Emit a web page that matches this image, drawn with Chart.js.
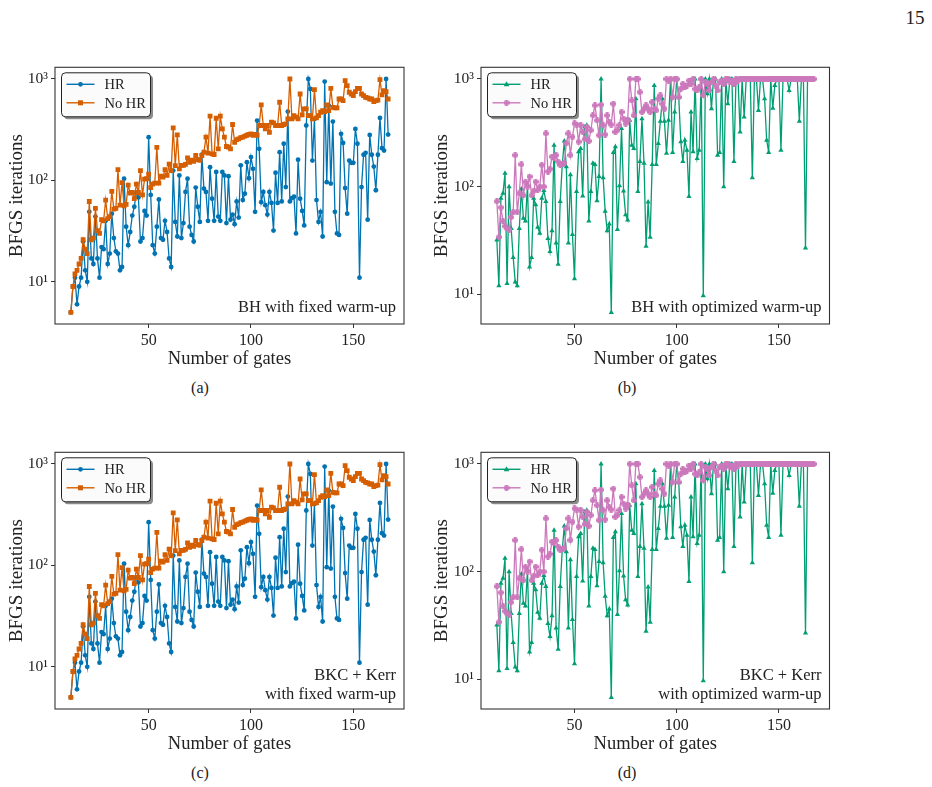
<!DOCTYPE html>
<html lang="en">
<head>
<meta charset="UTF-8">
<title>BFGS iterations vs number of gates</title>
<style>
  body { margin: 0; background: #fff; width: 932px; height: 787px; position: relative; overflow: hidden;
         font-family: 'Liberation Serif', serif; color: #222; }
  canvas { position: absolute; }
  .cap { position: absolute; font-size: 16px; transform: translate(-50%, -50%); white-space: nowrap; }
</style>
</head>
<body>
<div class="cap" style="left:915px;top:18px;font-size:19px">15</div>

<canvas id="pa" width="425" height="320" style="left:0;top:55px"></canvas>
<canvas id="pb" width="425" height="320" style="left:425px;top:55px"></canvas>
<canvas id="pc" width="425" height="320" style="left:0;top:440px"></canvas>
<canvas id="pd" width="425" height="320" style="left:425px;top:440px"></canvas>

<div class="cap" style="left:200px;top:388px">(a)</div>
<div class="cap" style="left:627px;top:388px">(b)</div>
<div class="cap" style="left:200px;top:773px">(c)</div>
<div class="cap" style="left:627px;top:773px">(d)</div>

<script src="https://cdn.jsdelivr.net/npm/chart.js@4.4.1/dist/chart.umd.min.js"></script>
<script>
// number of gates (x values)
const gates = [
  12,13,14,15,16,17,18,19,20,21,22,23,24,25,26,27,28,29,30,31,32,33,34,35,36,37,38,39,
  40,41,42,43,44,45,46,47,48,49,50,51,52,53,54,55,56,57,58,59,60,61,62,63,64,65,66,67,
  68,69,70,71,72,73,74,75,76,77,78,79,80,81,82,83,84,85,86,87,88,89,90,91,92,93,94,95,
  96,97,98,99,100,101,102,103,104,105,106,107,108,109,110,111,112,113,114,115,116,117,
  118,119,120,121,122,123,124,125,126,127,128,129,130,131,132,133,134,135,136,137,138,
  139,140,141,142,143,144,145,146,147,148,149,150,151,152,153,154,155,156,157,158,159,
  160,161,162,163,164,165,166,167
];

// fixed warm-up (panels a, c)
const hrFixed = [
  5, 9, 11, 6, 9, 11, 25, 13, 10, 49, 17, 15, 44, 17, 11, 22, 21, 40, 15, 19, 47, 27, 20, 19, 13, 14,
  104, 35, 23, 31, 45, 55, 76, 68, 25, 27, 50, 45,
  267, 72, 23, 19, 35, 65, 27, 26, 40, 31, 17, 14, 125,
  39, 28, 112, 27, 38, 77, 104, 35, 29, 25, 85, 55, 39, 179, 83, 77, 40, 135, 66, 40, 121, 44, 40,
  121, 112, 38, 110, 41, 46, 37, 62, 43, 141, 64, 74, 151, 105, 170, 130, 49, 389, 205, 61, 77, 57,
  46, 77, 60, 32, 119, 60, 190, 62, 230, 86, 477, 62,
  67, 69, 30, 160, 66, 50, 36, 348, 1000, 797, 157, 404, 64, 39, 49, 28, 942, 96, 547, 93, 380, 49,
  30, 29, 288, 234, 84, 47, 157, 149, 149, 322, 230, 11, 86, 179, 187, 41, 281, 179, 137, 80, 179,
  413, 208, 197, 1000, 283
];
const noHrFixed = [
  5, 9, 12, 13, 15, 17, 26, 21, 19, 62, 26, 27, 53, 32, 30, 41, 40, 64, 42, 44, 78, 52, 53, 128, 57,
  95, 56, 58, 90, 75, 76, 66, 92, 76, 125, 72, 103, 104, 115, 85, 92, 94, 212, 94, 110, 108, 128,
  112, 145, 125, 330,
  140, 281, 130, 141, 141, 144, 167, 151, 158, 154, 176, 160, 158, 176, 190, 267, 186, 430, 183, 180,
  410, 205, 430, 322, 267, 216, 213, 205, 356, 238, 253, 257, 264, 267, 273, 279, 285, 288, 279, 285,
  279, 348, 555, 348, 322, 348, 298, 375, 370, 348, 348, 590, 348, 356, 361, 404,
  1000,
  404, 436, 420, 404, 711, 442, 507, 507, 436, 436, 404, 785, 414, 436, 470, 488, 477, 555, 488, 809,
  526, 518, 518, 635, 635, 612, 963, 860, 740, 711, 685, 750, 809, 809, 711, 685, 660, 650, 635, 635,
  598, 612, 620, 985, 696, 768, 750, 635
];

// optimized warm-up (panels b, d)
const hrOpt = [
  32, 12, 78, 87, 133, 12.6, 100, 41, 22, 13, 12, 41, 95, 51, 48, 104, 18, 22, 78, 68, 42, 37, 78,
  92, 73, 33, 25, 39, 243, 30, 19, 73, 159, 265, 153, 30, 129, 36, 14, 90, 211, 226, 82, 359, 372,
  48, 90, 165, 161,
  74, 124, 1000, 121, 59, 39, 45, 6.8, 208, 235, 40, 102, 346, 91, 55, 49, 413, 243, 226, 655, 90,
  171, 428, 165, 28, 72, 34, 161, 868, 161, 251, 404, 655, 404, 204, 413, 1000, 208, 493, 1000, 678,
  261, 171, 270, 218, 81, 493, 211, 1000, 183, 218, 1000, 9.7, 1000, 728,
  1000, 528, 1000, 1000, 196, 208, 1000, 100, 1000, 589, 1000, 1000, 171, 1000, 1000, 322, 1000, 444,
  1000, 1000, 1000, 121, 1000, 1000, 510, 1000, 1000, 655, 270, 208, 1000, 535, 868, 1000, 1000, 218,
  1000, 1000, 1000, 782, 1000, 1000, 1000, 1000, 404, 1000, 1000, 27, 1000, 1000, 1000, 1000
];
const noHrOpt = [
  73, 34, 64, 48, 43, 41, 40, 52, 58, 196, 58, 87, 161, 83, 111, 100, 124, 83, 91, 111, 93, 100, 159,
  100, 312, 138, 146, 190, 186, 196, 171, 159, 161, 165, 252, 312, 196, 290, 386, 377, 261, 372, 322,
  276, 359, 265, 334, 459, 568, 413, 300,
  576, 372, 305, 459, 399, 377, 589, 322, 334, 372, 493, 428, 385, 413, 1000, 632, 459, 1000, 1000,
  754, 493, 529, 568, 529, 493, 610, 529, 511, 655, 703, 589, 529, 1000, 966, 1000, 678, 1000, 1000,
  678, 810, 900, 839, 869, 966, 900, 1000, 810, 782, 839, 1000, 703, 933, 900, 782, 933,
  1000, 869, 782, 933, 966, 900, 1000, 1000, 933, 966, 900, 1000, 966, 1000,
  1000, 1000, 1000, 1000, 1000, 1000, 1000, 1000, 1000, 1000, 1000, 1000, 1000, 1000, 1000, 1000,
  1000, 1000, 1000, 1000, 1000, 1000, 1000, 1000, 1000, 1000, 1000, 1000, 1000, 1000, 1000, 1000,
  1000, 1000, 1000, 1000
];

const xTicks = [50, 100, 150];
const yTicks = [10, 100, 1000];
const yTickLabels = ['10¹', '10²', '10³'];
const seriesLabels = ['HR', 'No HR'];

const BLUE = '#0173b2', ORANGE = '#d55e00', GREEN = '#029e73', PINK = '#cc78bc';
const INK = '#222';
const SERIF = '"Liberation Serif", serif';

// small filled plus marker ("P") for the pink series
function plusMarker(color) {
  const c = document.createElement('canvas');
  c.width = 6; c.height = 6;
  const g = c.getContext('2d');
  g.fillStyle = color;
  g.fillRect(1.5, 0, 3, 6);
  g.fillRect(0, 1.5, 6, 3);
  return c;
}
const pinkPlus = plusMarker(PINK);

function marker(ctx, style, color, x, y) {
  ctx.fillStyle = color;
  ctx.beginPath();
  if (style === 'circle') {
    ctx.arc(x, y, 2.4, 0, Math.PI * 2); ctx.fill();
  } else if (style === 'rect') {
    ctx.fillRect(x - 2.5, y - 2.5, 5, 5);
  } else if (style === 'triangle') {
    ctx.moveTo(x, y - 3); ctx.lineTo(x + 2.8, y + 2); ctx.lineTo(x - 2.8, y + 2); ctx.closePath(); ctx.fill();
  } else {
    ctx.drawImage(style, x - style.width / 2, y - style.height / 2);
  }
}

function roundRect(ctx, x, y, w, h, r) {
  ctx.beginPath();
  ctx.moveTo(x + r, y);
  ctx.arcTo(x + w, y, x + w, y + h, r);
  ctx.arcTo(x + w, y + h, x, y + h, r);
  ctx.arcTo(x, y + h, x, y, r);
  ctx.arcTo(x, y, x + w, y, r);
  ctx.closePath();
}

// axes frame, boxed legend and the corner note
const panelDeco = {
  id: 'panelDeco',
  afterDatasetsDraw(chart, args, opts) {
    const { ctx, chartArea: a } = chart;
    ctx.save();
    ctx.strokeStyle = '#333';
    ctx.lineWidth = 1.1;
    ctx.strokeRect(a.left, a.top, a.right - a.left, a.bottom - a.top);

    const lx = a.left + 6.5, ly = a.top + 5.5, lw = 89, lh = 44;
    ctx.fillStyle = 'rgba(0,0,0,0.45)';
    roundRect(ctx, lx + 2.5, ly + 2.5, lw, lh, 4); ctx.fill();
    ctx.fillStyle = '#fbfbfb';
    roundRect(ctx, lx, ly, lw, lh, 4); ctx.fill();
    ctx.strokeStyle = '#222'; ctx.lineWidth = 1; ctx.stroke();
    opts.items.forEach((it, i) => {
      const y = ly + 11.5 + i * 18.5;
      ctx.strokeStyle = it.color; ctx.lineWidth = 1.4;
      ctx.beginPath(); ctx.moveTo(lx + 5, y); ctx.lineTo(lx + 33, y); ctx.stroke();
      marker(ctx, it.style, it.color, lx + 19, y);
      ctx.fillStyle = INK;
      ctx.font = '14.5px ' + SERIF;
      ctx.textAlign = 'left'; ctx.textBaseline = 'middle';
      ctx.fillText(it.label, lx + 43, y + 1);
    });

    ctx.fillStyle = INK;
    ctx.font = '16.5px ' + SERIF;
    ctx.textAlign = 'right'; ctx.textBaseline = 'alphabetic';
    const n = opts.note.length;
    opts.note.forEach((t, i) => {
      const base = a.bottom - (n === 1 ? 12 : 10) - (n - 1 - i) * 19;
      ctx.fillText(t, a.right - 8, base);
    });
    ctx.restore();
  }
};

function makePanel(id, hr, noHr, hrColor, hrStyle, noColor, noStyle, yMin, yMax, yAxisW, padRight, note) {
  const pts = arr => gates.map((g, i) => ({ x: g, y: arr[i] }));
  new Chart(document.getElementById(id), {
    type: 'line',
    data: {
      datasets: [
        { label: seriesLabels[0], data: pts(hr), borderColor: hrColor, backgroundColor: hrColor,
          borderWidth: 1.3, pointStyle: hrStyle, pointRadius: hrStyle === 'rect' ? 3.5 : (hrStyle === 'triangle' ? 3 : 2.4),
          pointBorderWidth: 0, tension: 0, order: 2 },
        { label: seriesLabels[1], data: pts(noHr), borderColor: noColor, backgroundColor: noColor,
          borderWidth: 1.3, pointStyle: noStyle, pointRadius: noStyle === 'rect' ? 3.4 : 3,
          pointBorderWidth: 0, tension: 0, order: 1 }
      ]
    },
    options: {
      responsive: false,
      animation: false,
      devicePixelRatio: 1,
      layout: { padding: { top: 11.7, right: padRight, left: 0, bottom: 0 } },
      plugins: {
        legend: { display: false },
        tooltip: { enabled: false },
        panelDeco: {
          note,
          items: [
            { label: seriesLabels[0], color: hrColor, style: hrStyle },
            { label: seriesLabels[1], color: noColor, style: noStyle }
          ]
        }
      },
      scales: {
        x: {
          type: 'linear', min: 4.25, max: 174.75,
          afterBuildTicks: s => { s.ticks = xTicks.map(v => ({ value: v })); },
          afterFit: s => { s.height = 51; },
          grid: { drawOnChartArea: false, drawTicks: true, tickLength: 4, color: '#333' },
          border: { display: false },
          ticks: { color: INK, font: { family: SERIF, size: 16 }, padding: 3, maxRotation: 0 },
          title: { display: true, text: 'Number of gates', color: INK,
                   font: { family: SERIF, size: 18.5 }, padding: { top: 0, bottom: 5 } }
        },
        y: {
          type: 'logarithmic', min: yMin, max: yMax,
          afterBuildTicks: s => { s.ticks = yTicks.map(v => ({ value: v })); },
          afterFit: s => { s.width = yAxisW; },
          grid: { drawOnChartArea: false, drawTicks: true, tickLength: 4, color: '#333' },
          border: { display: false },
          ticks: { color: INK, font: { family: SERIF, size: 15.5 }, padding: 3,
                   callback: v => yTickLabels[yTicks.indexOf(v)] },
          title: { display: true, text: 'BFGS iterations', color: INK,
                   font: { family: SERIF, size: 19 }, padding: { top: 5.5, bottom: 0 } }
        }
      }
    },
    plugins: [panelDeco]
  });
}

makePanel('pa', hrFixed, noHrFixed, BLUE, 'circle', ORANGE, 'rect', 3.84, 1304, 55, 21,
  ['BH with fixed warm-up']);
makePanel('pb', hrOpt, noHrOpt, GREEN, 'triangle', PINK, pinkPlus, 5.31, 1283, 56, 20.5,
  ['BH with optimized warm-up']);
makePanel('pc', hrFixed, noHrFixed, BLUE, 'circle', ORANGE, 'rect', 3.84, 1304, 55, 21,
  ['BKC + Kerr', 'with fixed warm-up']);
makePanel('pd', hrOpt, noHrOpt, GREEN, 'triangle', PINK, pinkPlus, 5.31, 1283, 56, 20.5,
  ['BKC + Kerr', 'with optimized warm-up']);
</script>
</body>
</html>
